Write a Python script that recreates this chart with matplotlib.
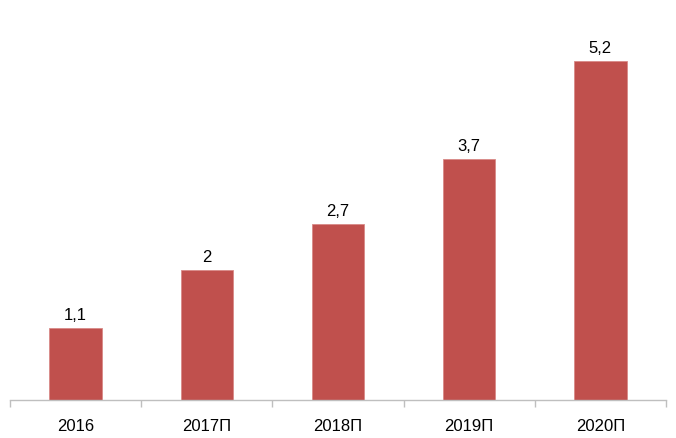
import matplotlib
matplotlib.use("Agg")
import matplotlib.pyplot as plt
import numpy as np

categories = ["2016", "2017П", "2018П", "2019П", "2020П"]
values = [1.1, 2, 2.7, 3.7, 5.2]
labels = ["1,1", "2", "2,7", "3,7", "5,2"]

plt.rcParams['font.family'] = ['Liberation Sans', 'DejaVu Sans']

W, H = 676, 439
fig = plt.figure(figsize=(W/100, H/100), dpi=100)
ax = fig.add_axes([10/W, (H-401)/H, 656/W, 391/H])

x = np.arange(len(categories))
bars = ax.bar(x, values, width=0.4, color="#C0504D", edgecolor="#D88A88", linewidth=0.6)
for b, lab in zip(bars, labels):
    ax.text(b.get_x() + b.get_width()/2, b.get_height() + 0.09, lab,
            ha="center", va="bottom", fontsize=12, color="#000000")

ax.set_xlim(-0.5, len(categories) - 0.5)
ax.set_ylim(0, 6)
for s in ["top", "right", "left"]:
    ax.spines[s].set_visible(False)
ax.spines["bottom"].set_color("#BFBFBF")
ax.spines["bottom"].set_linewidth(1)
ax.set_yticks([])
ax.set_xticks(np.arange(-0.5, len(categories)), minor=False)
ax.set_xticklabels([])
ax.tick_params(axis="x", which="major", length=5, color="#BFBFBF", width=1)
ax.set_xticks(x, minor=True)
ax.set_xticklabels(categories, minor=True, fontsize=12)
ax.tick_params(axis="x", which="minor", length=0, pad=13)

fig.savefig("out.png", dpi=100)
